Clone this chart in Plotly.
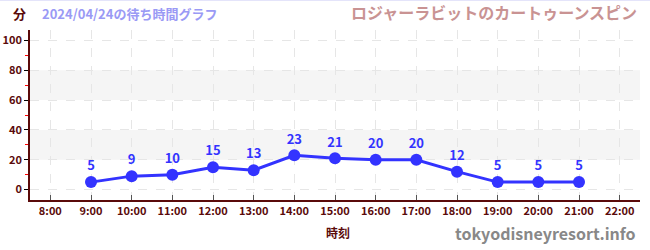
import plotly.graph_objects as go

hours = [9, 10, 11, 12, 13, 14, 15, 16, 17, 18, 19, 20, 21]
waits = [5, 9, 10, 15, 13, 23, 21, 20, 20, 12, 5, 5, 5]
tick_hours = list(range(8, 23))
tick_labels = [f"{h}:00" for h in tick_hours]
y_ticks = [0, 20, 40, 60, 80, 100]
y_minor = [10, 30, 50, 70, 90]
bands = [(20, 40), (60, 80)]

FONT = "Noto Sans CJK JP"
DARK = "#5a0a0a"

fig = go.Figure()
for lo, hi in bands:
    fig.add_hrect(y0=lo, y1=hi, fillcolor="#f5f5f5", line_width=0, layer="below")

fig.add_trace(go.Scatter(
    x=hours, y=waits, mode="lines+markers+text",
    line=dict(color="#3333ff", width=3),
    marker=dict(color="#3333ff", size=12),
    text=[str(v) for v in waits], textposition="top center",
    textfont=dict(family=FONT, size=13, color="#3333ff", weight="bold"),
    cliponaxis=False, hoverinfo="skip",
))

fig.update_layout(
    width=650, height=250,
    margin=dict(l=30, r=10, t=30, b=50, autoexpand=False),
    paper_bgcolor="white", plot_bgcolor="white",
    showlegend=False,
    font=dict(family=FONT, color=DARK),
    xaxis=dict(
        range=[7.5, 22.5], tickvals=tick_hours, ticktext=tick_labels,
        tickfont=dict(family=FONT, size=11, color=DARK, weight="bold"),
        showgrid=True, gridcolor="#e6e6e6", griddash="dash", gridwidth=1,
        showline=True, linecolor=DARK, linewidth=1.5,
        ticks="inside", ticklen=5, tickcolor="#555", zeroline=False,
        automargin=False, fixedrange=True,
    ),
    yaxis=dict(
        range=[-7, 107], tickvals=y_ticks,
        tickfont=dict(family=FONT, size=11, color=DARK, weight="bold"),
        showgrid=True, gridcolor="#e6e6e6", griddash="dash", gridwidth=1,
        showline=True, linecolor=DARK, linewidth=1.5,
        ticks="outside", ticklen=4, tickcolor="black", zeroline=False,
        minor=dict(tickvals=y_minor, ticks="outside", ticklen=3, tickcolor="red", showgrid=False),
        automargin=False, fixedrange=True,
    ),
)
fig.add_annotation(text="<b>分</b>", xref="paper", yref="paper", x=-0.003, y=1.0, yshift=17,
                   xanchor="right", yanchor="middle", showarrow=False,
                   font=dict(family=FONT, size=13, color=DARK))
fig.add_annotation(text="<b>2024/04/24の待ち時間グラフ</b>", xref="paper", yref="paper", x=0.016, y=1.0, yshift=17,
                   xanchor="left", yanchor="middle", showarrow=False,
                   font=dict(family=FONT, size=13, color="#9a9af5"))
fig.add_annotation(text="<b>ロジャーラビットのカートゥーンスピン</b>", xref="paper", yref="paper", x=0.998, y=1.0, yshift=18,
                   xanchor="right", yanchor="middle", showarrow=False,
                   font=dict(family=FONT, size=16, color="#c99393"))
fig.add_annotation(text="<b>時刻</b>", xref="paper", yref="paper", x=0.505, y=0, yshift=-32,
                   xanchor="center", yanchor="middle", showarrow=False,
                   font=dict(family=FONT, size=12, color=DARK))
fig.add_annotation(text="<b>tokyodisneyresort.info</b>", xref="paper", yref="paper", x=0.996, y=0, yshift=-33,
                   xanchor="right", yanchor="middle", showarrow=False,
                   font=dict(family=FONT, size=16, color="#888888"))
fig.add_shape(type="line", xref="paper", yref="paper", x0=-0.06, x1=1.02,
              y0=1 + 29.5 / 170, y1=1 + 29.5 / 170,
              line=dict(color="#e4e4fa", width=1))

fig.write_html("out.html")
